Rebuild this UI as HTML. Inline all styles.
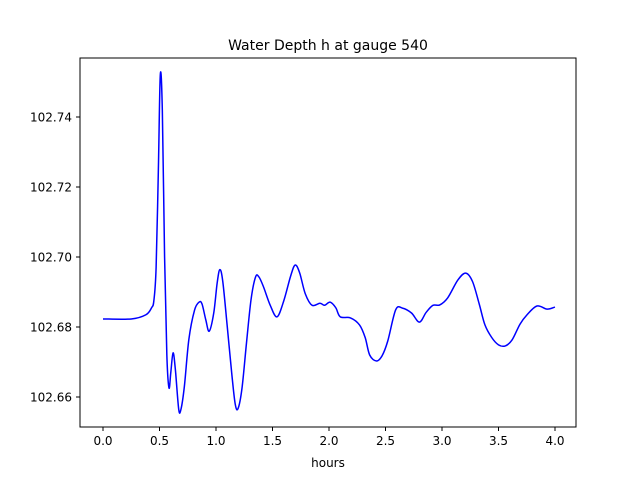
<!DOCTYPE html>
<html><head><meta charset="utf-8"><style>
body{margin:0;background:#fff;}
svg{font-family:"DejaVu Sans","Liberation Sans",sans-serif;}
</style></head><body>
<svg width="640" height="480">
<rect x="0" y="0" width="640" height="480" fill="#fff"/>
<text x="328" y="50" text-anchor="middle" font-size="14">Water Depth h at gauge 540</text>
<g id="plot"></g>
<rect x="80" y="58" width="496" height="369" fill="none" stroke="#000" stroke-width="1"/>
<g id="xt"></g><g id="yt"></g>
<text x="328" y="467" text-anchor="middle" font-size="12">hours</text>
</svg>
<script>
const hours=[0,0.25,0.38,0.43,0.45,0.47,0.49,0.507,0.525,0.545,0.565,0.584,0.60,0.62,0.64,0.67,0.69,0.72,0.76,0.81,0.85,0.876,0.91,0.94,0.98,1.01,1.034,1.06,1.10,1.14,1.17,1.195,1.23,1.27,1.31,1.35,1.38,1.42,1.48,1.54,1.60,1.66,1.70,1.74,1.79,1.85,1.92,1.96,2.01,2.06,2.10,2.19,2.27,2.32,2.36,2.42,2.47,2.52,2.59,2.65,2.73,2.80,2.86,2.92,2.98,3.05,3.14,3.21,3.27,3.33,3.38,3.44,3.50,3.56,3.62,3.69,3.75,3.84,3.93,4.0];
const depth=[102.6823,102.6823,102.6835,102.6855,102.6875,102.697,102.725,102.752,102.742,102.700,102.672,102.6626,102.667,102.6726,102.668,102.6565,102.6565,102.663,102.6765,102.6848,102.6871,102.6866,102.682,102.6788,102.684,102.6925,102.6964,102.693,102.680,102.6665,102.658,102.6567,102.6625,102.6755,102.6878,102.6943,102.6943,102.6915,102.6862,102.6829,102.6875,102.6945,102.6977,102.6955,102.6895,102.6862,102.6868,102.6862,102.6871,102.6855,102.6829,102.6826,102.6806,102.677,102.672,102.6703,102.6718,102.676,102.6849,102.6854,102.684,102.6814,102.6842,102.6862,102.6863,102.6883,102.6934,102.6954,102.693,102.6865,102.6806,102.677,102.6749,102.6746,102.6763,102.6808,102.6834,102.686,102.6851,102.6857];
const xTicks=[0,0.5,1,1.5,2,2.5,3,3.5,4];
const xTickLabels=["0.0","0.5","1.0","1.5","2.0","2.5","3.0","3.5","4.0"];
const yTicks=[102.66,102.68,102.70,102.72,102.74];
const yTickLabels=["102.66","102.68","102.70","102.72","102.74"];
const X=h=>103+113*h, Y=v=>397-(v-102.66)*3500;
const ns="http://www.w3.org/2000/svg";
const P=hours.map((h,i)=>[X(h),Y(depth[i])]);
let d="M"+P[0][0]+","+P[0][1];
for(let i=0;i<P.length-1;i++){const p0=P[i-1]||P[i],p1=P[i],p2=P[i+1],p3=P[i+2]||p2;
const c1=[p1[0]+(p2[0]-p0[0])/6,p1[1]+(p2[1]-p0[1])/6],c2=[p2[0]-(p3[0]-p1[0])/6,p2[1]-(p3[1]-p1[1])/6];
d+=` C${c1[0]},${c1[1]} ${c2[0]},${c2[1]} ${p2[0]},${p2[1]}`;}
const path=document.createElementNS(ns,"path");
path.setAttribute("d",d);path.setAttribute("fill","none");path.setAttribute("stroke","#0000ff");path.setAttribute("stroke-width","1.5");


document.getElementById("plot").appendChild(path);
xTicks.forEach((t,i)=>{const g=document.createElementNS(ns,"g");


g.innerHTML=`<line x1="${X(t)}" x2="${X(t)}" y1="427" y2="431" stroke="#000"/><text x="${X(t)}" y="445" text-anchor="middle" font-size="12">${xTickLabels[i]}</text>`;
document.getElementById("xt").appendChild(g);});
yTicks.forEach((t,i)=>{const g=document.createElementNS(ns,"g");


g.innerHTML=`<line x1="76" x2="80" y1="${Y(t)}" y2="${Y(t)}" stroke="#000"/><text x="72" y="${Y(t)+4.5}" text-anchor="end" font-size="12">${yTickLabels[i]}</text>`;
document.getElementById("yt").appendChild(g);});
</script>
</body></html>
